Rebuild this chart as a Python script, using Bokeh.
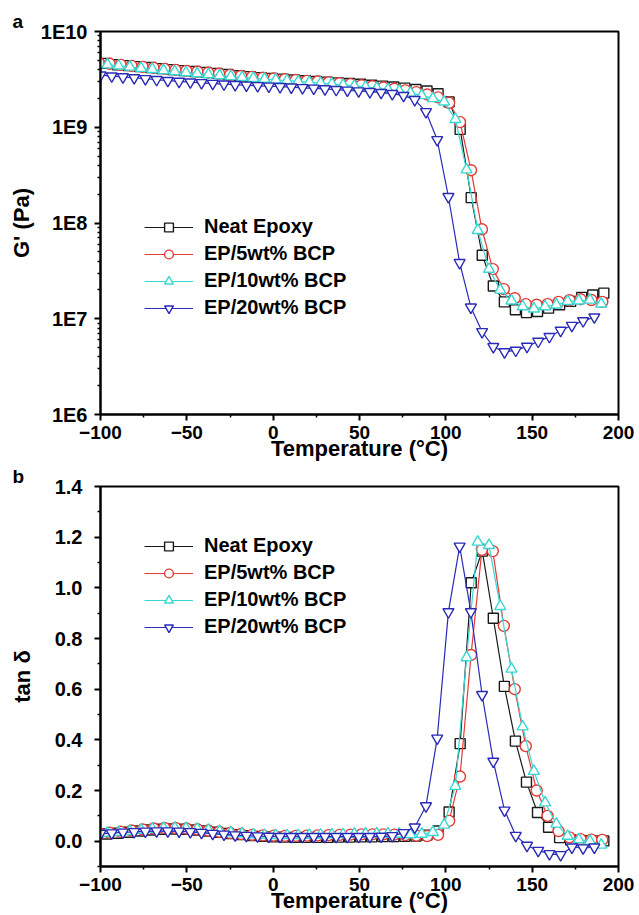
from bokeh.plotting import figure
from bokeh.layouts import column
from bokeh.models import (FixedTicker, CustomJSTickFormatter, PrintfTickFormatter,
                          Legend, LegendItem, Range1d)
from bokeh.embed import file_html
from bokeh.resources import INLINE

FONT = "Liberation Sans"

# ---------------- axes / ticks ----------------
x_ticks = [-100, -50, 0, 50, 100, 150, 200]
x_minor = [-75, -25, 25, 75, 125, 175]
g_ticks = [1e6, 1e7, 1e8, 1e9, 1e10]
g_minor = [k * 10.0 ** n for n in range(6, 10) for k in range(2, 10)]
tan_ticks = [0.0, 0.2, 0.4, 0.6, 0.8, 1.0, 1.2, 1.4]
tan_minor = [-0.1, 0.1, 0.3, 0.5, 0.7, 0.9, 1.1, 1.3]

series_labels = ["Neat Epoxy", "EP/5wt% BCP", "EP/10wt% BCP", "EP/20wt% BCP"]
colors = ["#1a1a1a", "#e23a35", "#38d8d2", "#2a2ab8"]
markers = ["square", "circle", "triangle", "inverted_triangle"]

# ---------------- temperatures (°C) ----------------
t_neat = [-96.5, -90.1, -83.7, -77.3, -70.9, -64.5, -58.1, -51.7, -45.3, -38.9,
          -32.5, -26.1, -19.7, -13.3, -6.9, -0.5, 5.9, 12.3, 18.7, 25.1,
          31.5, 37.9, 44.3, 50.7, 57.1, 63.5, 69.9, 76.3, 82.7, 89.1,
          95.5, 101.9, 108.3, 114.7, 121.1, 127.5, 133.9, 140.3, 146.7, 153.1,
          159.5, 165.9, 172.3, 178.7, 185.1, 191.5]
t_5 = [-101.0, -94.7, -88.3, -82.0, -75.6, -69.3, -63.0, -56.6, -50.3, -43.9,
       -37.6, -31.3, -24.9, -18.6, -12.2, -5.9, 0.4, 6.8, 13.1, 19.5,
       25.8, 32.1, 38.5, 44.8, 51.2, 57.5, 63.8, 70.2, 76.5, 82.9,
       89.2, 95.5, 101.9, 108.2, 114.6, 120.9, 127.2, 133.6, 139.9, 146.3,
       152.6, 158.9, 165.3, 171.6, 178.0, 184.3, 190.6]
t_10 = [-96.0, -89.5, -83.0, -76.5, -70.0, -63.5, -57.0, -50.5, -44.0, -37.5,
        -31.0, -24.5, -18.0, -11.5, -5.0, 1.5, 8.0, 14.5, 21.0, 27.5,
        34.0, 40.5, 47.0, 53.5, 60.0, 66.5, 73.0, 79.5, 86.0, 92.5,
        99.0, 105.5, 112.0, 118.5, 125.0, 131.5, 138.0, 144.5, 151.0, 157.5,
        164.0, 170.5, 177.0, 183.5, 190.0]
t_20 = [-100.0, -93.5, -87.0, -80.5, -74.0, -67.5, -61.0, -54.5, -48.0, -41.5,
        -35.0, -28.5, -22.0, -15.5, -9.0, -2.5, 4.0, 10.5, 17.0, 23.5,
        30.0, 36.5, 43.0, 49.5, 56.0, 62.5, 69.0, 75.5, 82.0, 88.5,
        95.0, 101.5, 108.0, 114.5, 121.0, 127.5, 134.0, 140.5, 147.0, 153.5,
        160.0, 166.5, 173.0, 179.5, 186.0]

# ---------------- storage modulus G' (Pa) ----------------
g_neat = [4.65e9, 4.5e9, 4.4e9, 4.3e9, 4.2e9, 4.1e9, 4.0e9, 3.9e9, 3.82e9, 3.74e9,
          3.65e9, 3.55e9, 3.45e9, 3.38e9, 3.3e9, 3.24e9, 3.18e9, 3.12e9, 3.06e9, 3.01e9,
          2.96e9, 2.91e9, 2.86e9, 2.81e9, 2.75e9, 2.69e9, 2.63e9, 2.56e9, 2.48e9, 2.39e9,
          2.24e9, 1.84e9, 9.5e8, 1.84e8, 4.6e7, 2.2e7, 1.5e7, 1.24e7, 1.16e7, 1.19e7,
          1.29e7, 1.4e7, 1.52e7, 1.67e7, 1.77e7, 1.85e7]
g_5 = [4.7e9, 4.6e9, 4.48e9, 4.38e9, 4.27e9, 4.17e9, 4.07e9, 3.97e9, 3.88e9, 3.8e9,
       3.71e9, 3.62e9, 3.52e9, 3.43e9, 3.36e9, 3.29e9, 3.23e9, 3.17e9, 3.11e9, 3.05e9,
       3.0e9, 2.94e9, 2.88e9, 2.82e9, 2.75e9, 2.68e9, 2.6e9, 2.52e9, 2.43e9, 2.33e9,
       2.2e9, 2.05e9, 1.8e9, 1.13e9, 3.56e8, 8.6e7, 3.3e7, 2.04e7, 1.64e7, 1.42e7,
       1.4e7, 1.42e7, 1.5e7, 1.56e7, 1.6e7, 1.57e7, 1.5e7]
g_10 = [4.5e9, 4.38e9, 4.26e9, 4.14e9, 4.03e9, 3.92e9, 3.82e9, 3.72e9, 3.63e9, 3.55e9,
        3.47e9, 3.39e9, 3.32e9, 3.25e9, 3.19e9, 3.13e9, 3.07e9, 3.01e9, 2.95e9, 2.89e9,
        2.83e9, 2.77e9, 2.7e9, 2.63e9, 2.56e9, 2.48e9, 2.39e9, 2.28e9, 2.15e9, 2.0e9,
        1.84e9, 1.21e9, 3.6e8, 8.4e7, 3.3e7, 2.0e7, 1.54e7, 1.34e7, 1.27e7, 1.34e7,
        1.4e7, 1.52e7, 1.54e7, 1.57e7, 1.43e7]
g_20 = [3.5e9, 3.42e9, 3.35e9, 3.28e9, 3.21e9, 3.14e9, 3.07e9, 3.01e9, 2.96e9, 2.91e9,
        2.86e9, 2.82e9, 2.78e9, 2.74e9, 2.71e9, 2.68e9, 2.65e9, 2.62e9, 2.58e9, 2.55e9,
        2.51e9, 2.47e9, 2.43e9, 2.39e9, 2.35e9, 2.3e9, 2.24e9, 2.14e9, 1.94e9, 1.45e9,
        7.4e8, 1.88e8, 3.85e7, 1.32e7, 7.3e6, 5.1e6, 4.5e6, 4.67e6, 5.14e6, 5.8e6,
        6.5e6, 7.55e6, 8.5e6, 9.5e6, 1.04e7]

# ---------------- loss factor tan delta ----------------
tan_neat = [0.028, 0.031, 0.035, 0.040, 0.044, 0.047, 0.048, 0.047, 0.044, 0.040,
            0.035, 0.030, 0.026, 0.022, 0.019, 0.017, 0.016, 0.015, 0.015, 0.015,
            0.015, 0.016, 0.016, 0.017, 0.017, 0.018, 0.018, 0.019, 0.020, 0.024,
            0.040, 0.115, 0.385, 1.020, 1.145, 0.880, 0.611, 0.395, 0.233, 0.113,
            0.055, 0.014, 0.005, 0.002, 0.001, 0.001]
tan_5 = [0.030, 0.033, 0.037, 0.042, 0.046, 0.050, 0.052, 0.052, 0.050, 0.047,
         0.042, 0.037, 0.032, 0.028, 0.025, 0.023, 0.022, 0.021, 0.021, 0.022,
         0.023, 0.024, 0.025, 0.026, 0.027, 0.027, 0.027, 0.026, 0.024, 0.022,
         0.020, 0.025, 0.080, 0.255, 0.735, 1.150, 1.145, 0.850, 0.600, 0.375,
         0.200, 0.100, 0.040, 0.015, 0.008, 0.006, 0.005]
tan_10 = [0.032, 0.035, 0.039, 0.044, 0.048, 0.051, 0.052, 0.051, 0.048, 0.044,
          0.039, 0.034, 0.030, 0.026, 0.024, 0.023, 0.023, 0.023, 0.024, 0.025,
          0.026, 0.027, 0.028, 0.029, 0.029, 0.029, 0.028, 0.026, 0.028, 0.035,
          0.064, 0.217, 0.725, 1.181, 1.168, 0.927, 0.680, 0.452, 0.276, 0.152,
          0.068, 0.020, 0.006, 0.000, -0.015]
tan_20 = [0.030, 0.032, 0.035, 0.037, 0.039, 0.040, 0.040, 0.039, 0.037, 0.034,
          0.030, 0.027, 0.024, 0.022, 0.020, 0.019, 0.018, 0.018, 0.018, 0.018,
          0.018, 0.018, 0.018, 0.018, 0.018, 0.019, 0.021, 0.033, 0.055, 0.139,
          0.406, 0.905, 1.164, 0.905, 0.578, 0.315, 0.122, 0.022, -0.017, -0.037,
          -0.050, -0.054, -0.024, -0.027, -0.024]

temps = [t_neat, t_5, t_10, t_20]
g_data = [g_neat, g_5, g_10, g_20]
tan_data = [tan_neat, tan_5, tan_10, tan_20]


def style_axes(p, ylabel, ylabel_standoff, ylab_label_standoff, panel_letter):
    for ax in (p.xaxis[0], p.yaxis[0]):
        ax.axis_line_width = 2
        ax.axis_line_color = "black"
        ax.major_tick_line_width = 2
        ax.major_tick_line_color = "black"
        ax.minor_tick_line_width = 1.5
        ax.minor_tick_line_color = "black"
        ax.major_tick_in = 0
        ax.major_tick_out = 6
        ax.minor_tick_in = 0
        ax.minor_tick_out = 3
        ax.major_label_text_font = FONT
        ax.major_label_text_font_style = "bold"
        ax.major_label_text_font_size = "20px"
        ax.major_label_text_color = "black"
        ax.axis_label_text_font = FONT
        ax.axis_label_text_font_style = "bold"
        ax.axis_label_text_font_size = "22px"
        ax.axis_label_text_color = "black"
    p.xaxis.axis_label = "Temperature (°C)"
    p.xaxis.ticker = FixedTicker(ticks=x_ticks, minor_ticks=x_minor)
    p.xaxis.major_label_text_font_size = "19px"
    p.xaxis.major_label_standoff = 5
    p.xaxis.axis_label_standoff = -6
    p.yaxis.axis_label = ylabel
    p.yaxis.major_label_standoff = ylab_label_standoff
    p.yaxis.axis_label_standoff = ylabel_standoff
    p.outline_line_color = "black"
    p.outline_line_width = 2
    p.outline_line_alpha = 1.0
    p.xgrid.visible = False
    p.ygrid.visible = False
    p.background_fill_color = "white"
    p.border_fill_color = "white"
    p.title.text = panel_letter
    p.title.align = "left"
    p.title.offset = -88
    p.title.standoff = 0
    p.title.text_font = FONT
    p.title.text_font_style = "bold"
    p.title.text_font_size = "19px"
    p.title.text_color = "black"


def add_series(p, ydata):
    items = []
    for t, y, c, m, lab in zip(temps, ydata, colors, markers, series_labels):
        lr = p.line(t, y, line_color=c, line_width=1.2)
        sr = p.scatter(t, y, marker=m, size=11 if m != "square" else 10,
                       line_color=c, line_width=1.4, fill_color="white")
        items.append(LegendItem(label=lab, renderers=[lr, sr]))
    return items


def make_legend(items, loc):
    return Legend(items=items, location=loc, glyph_width=49, glyph_height=22,
                  label_height=22, spacing=4, padding=0, margin=0,
                  label_standoff=11, border_line_alpha=0,
                  background_fill_alpha=0,
                  label_text_font=FONT, label_text_font_style="bold",
                  label_text_font_size="20px", label_text_color="black")


# ---------------- panel a ----------------
p1 = figure(width=639, height=463, y_axis_type="log",
            x_range=Range1d(-100, 200), y_range=Range1d(1e6, 1e10),
            output_backend="svg", toolbar_location=None,
            min_border_left=100, min_border_right=21,
            min_border_top=31, min_border_bottom=48)
style_axes(p1, "G' (Pa)", 4, 7, "a")
p1.yaxis.ticker = FixedTicker(ticks=g_ticks, minor_ticks=g_minor)
p1.yaxis.formatter = CustomJSTickFormatter(code="return '1E' + Math.round(Math.log10(tick));")
items1 = add_series(p1, g_data)
p1.add_layout(make_legend(items1, (44, 95)))

# ---------------- panel b ----------------
p2 = figure(width=639, height=452,
            x_range=Range1d(-100, 200), y_range=Range1d(-0.1, 1.4),
            output_backend="svg", toolbar_location=None,
            min_border_left=100, min_border_right=21,
            min_border_top=21, min_border_bottom=48)
style_axes(p2, "tan δ", 17, 12, "b")
p2.yaxis.ticker = FixedTicker(ticks=tan_ticks, minor_ticks=tan_minor)
p2.yaxis.formatter = PrintfTickFormatter(format="%.1f")
items2 = add_series(p2, tan_data)
p2.add_layout(make_legend(items2, (44, 228)))

layout = column(p1, p2, spacing=0)
open("out.html", "w").write(file_html(layout, INLINE))
